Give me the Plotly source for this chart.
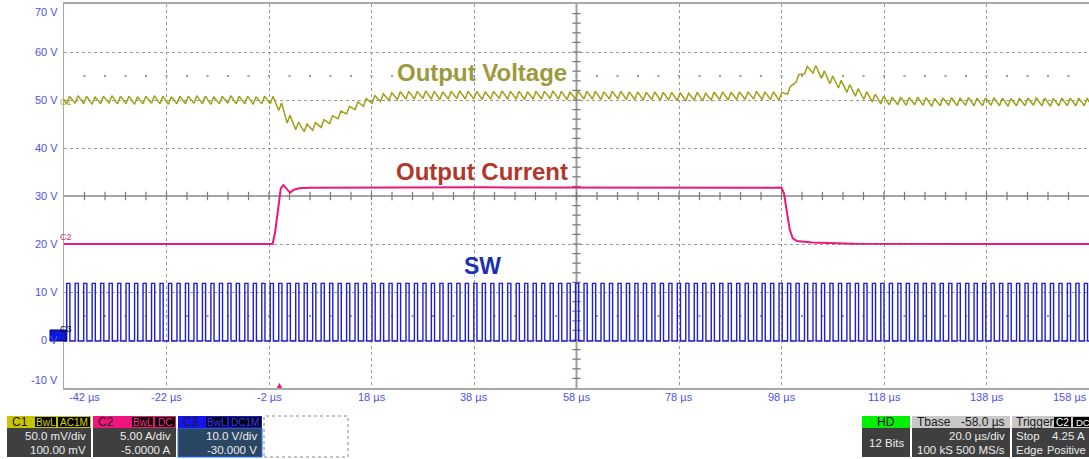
import plotly.graph_objects as go

# ---------------- data (time in µs, display volts) ----------------
SW_RISE_US = [
    -41.47, -39.82, -38.16, -36.51, -34.85, -33.20, -31.54, -29.89, -28.23, -26.58,
    -24.92, -23.27, -21.61, -19.96, -18.30, -16.65, -14.99, -13.34, -11.69, -10.03,
    -8.38, -6.72, -5.07, -3.41, -1.76, -0.10, 1.55, 3.21, 4.86, 6.52,
    8.17, 9.83, 11.48, 13.14, 14.79, 16.44, 18.10, 19.75, 21.41, 23.06,
    24.72, 26.37, 28.03, 29.68, 31.34, 32.99, 34.65, 36.30, 37.96, 39.61,
    41.27, 42.92, 44.57, 46.23, 47.88, 49.54, 51.19, 52.85, 54.50, 56.16,
    57.81, 59.47, 61.12, 62.78, 64.43, 66.09, 67.74, 69.39, 71.05, 72.70,
    74.36, 76.01, 77.67, 79.32, 80.98, 82.63, 84.29, 85.94, 87.60, 89.25,
    90.91, 92.56, 94.21, 95.87, 97.52, 99.18, 100.83, 102.49, 104.14, 105.80,
    107.45, 109.11, 110.76, 112.42, 114.07, 115.73, 117.38, 119.04, 120.69, 122.34,
    124.00, 125.65, 127.31, 128.96, 130.62, 132.27, 133.93, 135.58, 137.24, 138.89,
    140.55, 142.20, 143.86, 145.51, 147.16, 148.82, 150.47, 152.13, 153.78, 155.44,
    157.09,
]
SW_ON_US = 0.62
SW_LOW_V = -0.2
SW_HIGH_V = 11.8

# Output-voltage trace level for each switching cycle (display volts)
VOUT_MID_V = [
    50.0, 50.1, 50.0, 49.9, 50.0, 50.1, 50.0, 50.0, 49.9, 50.0,
    50.1, 50.0, 49.9, 50.0, 50.0, 50.1, 50.0, 49.9, 50.0, 50.1,
    50.0, 50.0, 49.9, 50.0, 50.0, 48.6, 46.0, 44.6, 44.2, 44.5,
    45.1, 45.9, 46.9, 47.9, 48.8, 49.5, 50.1, 50.5, 50.7, 50.9,
    51.0, 51.0, 51.1, 51.0, 50.9, 51.0, 51.1, 51.0, 51.0, 50.9,
    51.0, 51.1, 51.0, 51.0, 50.9, 51.0, 51.0, 51.1, 51.0, 50.9,
    51.0, 51.0, 51.0, 50.9, 51.0, 51.0, 50.9, 50.9, 50.8, 50.9,
    50.8, 50.8, 50.7, 50.6, 50.8, 50.6, 50.8, 50.9, 50.8, 50.9,
    50.9, 51.0, 50.9, 50.9, 50.8, 52.0, 54.5, 56.2, 56.4, 55.3,
    54.2, 53.3, 52.4, 51.6, 50.9, 50.4, 50.0, 49.8, 49.8, 49.7,
    49.8, 49.7, 49.5, 49.6, 49.7, 49.6, 49.7, 49.6, 49.6, 49.7,
    49.6, 49.5, 49.6, 49.6, 49.7, 49.6, 49.5, 49.6, 49.6, 49.6,
    49.6,
]
VOUT_RIPPLE_PP_V = 1.6
VOUT_PEAK_DELAY_US = 0.55

# Output-current trace (display volts)
IOUT_T_US = [-42.0, -1.3, -0.8, -0.2, 0.3, 0.8, 1.4, 2.1, 2.9, 3.8, 6.0, 40.0, 98.0,
             98.5, 99.0, 99.6, 100.2, 101.0, 104.0, 112.0, 158.0]
IOUT_V = [20.0, 20.0, 22.5, 28.0, 31.6, 32.3, 31.6, 30.7, 31.3, 31.6, 31.7, 31.8, 31.7,
          30.5, 27.0, 23.0, 21.2, 20.6, 20.3, 20.05, 20.0]

X_TICKS_US = [-42, -22, -2, 18, 38, 58, 78, 98, 118, 138, 158]
X_TICK_LABELS = ["-42 µs", "-22 µs", "-2 µs", "18 µs", "38 µs", "58 µs", "78 µs",
                 "98 µs", "118 µs", "138 µs", "158 µs"]
Y_TICKS_V = [70, 60, 50, 40, 30, 20, 10, 0, -10]
Y_TICK_LABELS = ["70 V", "60 V", "50 V", "40 V", "30 V", "20 V", "10 V", "0 V", "-10 V"]

TRIGGER_T_US = 0.0
X_RANGE = [-42, 158]
Y_RANGE = [-10, 70]

# ---------------- geometry helpers (screen pixels -> paper coords) ----------------
W, H = 1089, 459
ML, MR, MT, MB = 64, 0, 4, 71
PW, PH = W - ML - MR, H - MT - MB


def px(x):
    return (x - ML) / PW


def py(y):
    return (H - MB - y) / PH


TICK_BLUE = "#5050ee"
C_VOLT = "#a0a018"
C_CURR = "#e8197a"
C_SW = "#1e1ed2"
FONT = "Liberation Sans, Arial, sans-serif"

fig = go.Figure()

# graticule dots at half-division rows
dot_x = [X_RANGE[0] + 4 * i for i in range(1, 50)]
for lvl in (55, 5):
    fig.add_trace(go.Scatter(x=dot_x, y=[lvl] * len(dot_x), mode="markers",
                             marker=dict(symbol="square", size=2, color="#9a9a9a"),
                             hoverinfo="skip", showlegend=False))

# centre cross ticks
cx = X_RANGE[0] + 100
cy = 30
fig.add_trace(go.Scatter(x=[X_RANGE[0] + 4 * i for i in range(1, 50)], y=[cy] * 49,
                         mode="markers",
                         marker=dict(symbol="line-ns", size=6,
                                     line=dict(width=1.2, color="#7a7a7a")),
                         hoverinfo="skip", showlegend=False))
fig.add_trace(go.Scatter(x=[cx] * 39, y=[Y_RANGE[0] + 2 * i for i in range(1, 40)],
                         mode="markers",
                         marker=dict(symbol="line-ew", size=6,
                                     line=dict(width=1.2, color="#7a7a7a")),
                         hoverinfo="skip", showlegend=False))

# SW trace
sw_x, sw_y = [X_RANGE[0]], [SW_LOW_V]
for r in SW_RISE_US:
    f = r + SW_ON_US
    sw_x += [r, r, f, f]
    sw_y += [SW_LOW_V, SW_HIGH_V, SW_HIGH_V, SW_LOW_V]
sw_x.append(X_RANGE[1])
sw_y.append(SW_LOW_V)
fig.add_trace(go.Scatter(x=sw_x, y=sw_y, mode="lines",
                         line=dict(color=C_SW, width=1.4), hoverinfo="skip",
                         showlegend=False))

# Output voltage trace
v_x, v_y = [X_RANGE[0]], [VOUT_MID_V[0]]
for r, m in zip(SW_RISE_US, VOUT_MID_V):
    v_x += [r, r + VOUT_PEAK_DELAY_US]
    v_y += [m - VOUT_RIPPLE_PP_V / 2, m + VOUT_RIPPLE_PP_V / 2]
v_x.append(X_RANGE[1])
v_y.append(VOUT_MID_V[-1])
fig.add_trace(go.Scatter(x=v_x, y=v_y, mode="lines",
                         line=dict(color=C_VOLT, width=1.5), hoverinfo="skip",
                         showlegend=False))

# Output current trace
fig.add_trace(go.Scatter(x=IOUT_T_US, y=IOUT_V, mode="lines",
                         line=dict(color=C_CURR, width=2), hoverinfo="skip",
                         showlegend=False))

shapes = []
# centre cross lines
shapes.append(dict(type="line", xref="x", yref="paper", x0=cx, x1=cx, y0=0, y1=1,
                   line=dict(color="#a0a0a0", width=2), layer="below"))
shapes.append(dict(type="line", xref="paper", yref="y", x0=0, x1=1, y0=cy, y1=cy,
                   line=dict(color="#8c8c8c", width=1.5), layer="below"))

annotations = []
# y tick labels
for v, lab in zip(Y_TICKS_V, Y_TICK_LABELS):
    yanchor = "middle"
    if v == Y_RANGE[1]:
        yanchor = "top"
    if v == Y_RANGE[0]:
        yanchor = "bottom"
    annotations.append(dict(x=px(60), xref="paper", y=v, yref="y", text=lab,
                            showarrow=False, xanchor="right", yanchor=yanchor,
                            font=dict(family=FONT, size=11, color=TICK_BLUE)))
# x tick labels
for t, lab in zip(X_TICKS_US, X_TICK_LABELS):
    xanchor = "center"
    xx = t
    if t == X_RANGE[0]:
        xanchor = "left"
        xx = t + 0.5
    if t == X_RANGE[1]:
        xanchor = "right"
    annotations.append(dict(x=xx, xref="x", y=py(397), yref="paper", text=lab,
                            showarrow=False, xanchor=xanchor, yanchor="middle",
                            font=dict(family=FONT, size=11, color=TICK_BLUE)))

# series titles
for text, ypx_, col, sz in [("Output Voltage", 72, "#9c9a3c", 24),
                            ("Output Current", 171, "#b3362a", 24),
                            ("SW", 266, "#1c2fb4", 23)]:
    annotations.append(dict(x=px(482), xref="paper", y=py(ypx_), yref="paper",
                            text="<b>%s</b>" % text, showarrow=False,
                            xanchor="center", yanchor="middle",
                            font=dict(family=FONT, size=sz, color=col)))

# channel markers
annotations.append(dict(x=px(58), xref="paper", y=py(95), yref="paper", text="C1",
                        showarrow=False, font=dict(family=FONT, size=9, color="#b0b030")))
annotations.append(dict(x=px(58), xref="paper", y=py(237), yref="paper", text="C2",
                        showarrow=False, font=dict(family=FONT, size=9, color=C_CURR)))
shapes.append(dict(type="rect", xref="paper", yref="paper", x0=px(50), x1=px(66),
                   y0=py(341), y1=py(330), fillcolor="#0a1ad8",
                   line=dict(color="#000060", width=1)))
annotations.append(dict(x=px(58), xref="paper", y=py(335.5), yref="paper", text="C3",
                        showarrow=False, font=dict(family=FONT, size=9, color="#000030")))

# trigger arrow
annotations.append(dict(x=TRIGGER_T_US, xref="x", y=py(392), yref="paper", text="▲",
                        showarrow=False, font=dict(family=FONT, size=9, color=C_CURR)))


# ---------------- info panel ----------------
def box(x0, x1, y0, y1, fill, line=None, dash=None):
    shapes.append(dict(type="rect", xref="paper", yref="paper", x0=px(x0), x1=px(x1),
                       y0=py(y1), y1=py(y0), fillcolor=fill,
                       line=dict(color=line or fill, width=1 if line else 0,
                                 dash=dash or "solid")))


def txt(x, y, s, anchor="left", color="#ececec", size=11.5, bold=False):
    annotations.append(dict(x=px(x), xref="paper", y=py(y), yref="paper",
                            text=("<b>%s</b>" % s) if bold else s, showarrow=False,
                            xanchor=anchor, yanchor="middle",
                            font=dict(family=FONT, size=size, color=color)))


BODY = "#3f3f3f"
channels = [
    (7, 91, "#c8c400", "C1", [("BwL", 35, 56), ("AC1M", 58, 90)], "#d8d400",
     "50.0 mV/div", "100.00 mV", BODY, None),
    (93, 176, "#f0157e", "C2", [("BwL", 132, 153), ("DC", 155, 175)], "#ff3090",
     "5.00 A/div", "-5.0000 A", BODY, None),
    (178, 262, "#1414f0", "C3", [("BwL", 206, 227), ("DC1M", 229, 261)], "#3a3aff",
     "10.0 V/div", "-30.000 V", "#2b4663", "#2a6cff"),
]
for x0, x1, hcol, name, badges, bcol, l1, l2, bodycol, border in channels:
    box(x0, x1, 428, 457, bodycol, line=border)
    box(x0, x1, 416, 428, hcol)
    txt(x0 + 3, 422, name, color="#1a1a1a", size=12)
    for b, bx0, bx1 in badges:
        box(bx0, bx1, 417, 427, "#000000")
        txt((bx0 + bx1) / 2, 422, b, anchor="center", color=bcol, size=10)
    txt(x1 - 3, 436, l1, anchor="right")
    txt(x1 - 3, 450, l2, anchor="right")
box(264, 348, 416, 457, "rgba(0,0,0,0)", line="#888888", dash="dot")

# HD
box(862, 910, 428, 457, BODY)
box(862, 910, 416, 428, "#00f000")
txt(886, 422, "HD", anchor="center", color="#000000", size=12)
txt(886, 443, "12 Bits", anchor="center")
# Tbase
box(912, 1010, 428, 457, BODY)
box(912, 1010, 416, 428, "#c8c8c8")
txt(915, 422, "Tbase", color="#1a1a1a", size=12)
txt(1007, 422, "-58.0 µs", anchor="right", color="#1a1a1a", size=12)
txt(1007, 436, "20.0 µs/div", anchor="right")
txt(915, 450, "100 kS")
txt(1007, 450, "500 MS/s", anchor="right")
# Trigger
box(1012, 1100, 428, 457, BODY)
box(1012, 1100, 416, 428, "#c8c8c8")
txt(1014, 422, "Trigger", color="#1a1a1a", size=12)
box(1054, 1071, 417, 427, "#000000")
txt(1062.5, 422, "C2", anchor="center", color="#ffffff", size=10)
box(1073, 1089, 417, 427, "#000000")
txt(1074, 422, "DC", color="#ffffff", size=9.5)
txt(1014, 436, "Stop")
txt(1087, 436, "4.25 A", anchor="right")
txt(1014, 450, "Edge")
txt(1088, 450, "Positive", anchor="right", size=11)

fig.update_layout(
    width=W, height=H,
    margin=dict(l=ML, r=MR, t=MT, b=MB, autoexpand=False),
    paper_bgcolor="white", plot_bgcolor="white",
    showlegend=False,
    shapes=shapes, annotations=annotations,
    xaxis=dict(range=X_RANGE, tickmode="array", tickvals=X_TICKS_US[1:-1],
               showticklabels=False, ticks="", showgrid=True, gridcolor="#9a9a9a",
               griddash="dot", gridwidth=1, zeroline=False, showline=True,
               linecolor="#a8a8a8", linewidth=2, mirror=True, fixedrange=True),
    yaxis=dict(range=Y_RANGE, tickmode="array", tickvals=Y_TICKS_V[1:-1],
               showticklabels=False, ticks="", showgrid=True, gridcolor="#9a9a9a",
               griddash="dot", gridwidth=1, zeroline=False, showline=True,
               linecolor="#a8a8a8", linewidth=1.5, mirror=True, fixedrange=True),
)

fig.write_html(
    "out.html",
    config={"displayModeBar": False, "staticPlot": True},
    post_script="document.body.style.margin='0';document.body.style.overflow='hidden';",
)
